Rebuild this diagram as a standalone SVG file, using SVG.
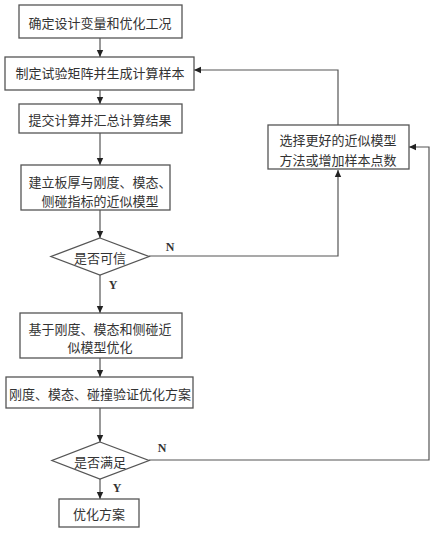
<svg xmlns="http://www.w3.org/2000/svg" width="439" height="538" viewBox="0 0 439 538">
<style>
.box{fill:#fff;stroke:#555;stroke-width:1.3}
.t{font-family:"Noto Sans CJK SC","Noto Sans CJK JP",sans-serif;font-size:13px;fill:#333;text-anchor:middle;dominant-baseline:central}
.l{font-family:"Liberation Serif",serif;font-size:12px;font-weight:bold;fill:#333;text-anchor:middle;dominant-baseline:central}
.c{fill:none;stroke:#555;stroke-width:1.2}
</style>
<defs>
<marker id="a" markerWidth="8" markerHeight="8" refX="7" refY="4" orient="auto" markerUnits="userSpaceOnUse">
<path d="M0,0.8 L7,4 L0,7.2 Z" fill="#222"/>
</marker>
</defs>
<rect width="439" height="538" fill="#fff"/>
<g id="connectors">
<path class="c" d="M100,38 V57" marker-end="url(#a)"/>
<path class="c" d="M100,90 V104" marker-end="url(#a)"/>
<path class="c" d="M100,133 V165" marker-end="url(#a)"/>
<path class="c" d="M100,210 V238" marker-end="url(#a)"/>
<path class="c" d="M100,275 V313" marker-end="url(#a)"/>
<path class="c" d="M100,358 V377" marker-end="url(#a)"/>
<path class="c" d="M100,408 V442" marker-end="url(#a)"/>
<path class="c" d="M100,479 V499" marker-end="url(#a)"/>
<path class="c" d="M149,256 H338 V170" marker-end="url(#a)"/>
<path class="c" d="M338,125 V70 H194" marker-end="url(#a)"/>
<path class="c" d="M149,460 H429 V147 H409" marker-end="url(#a)"/>
<text class="l" x="170" y="247">N</text>
<text class="l" x="113" y="285">Y</text>
<text class="l" x="162" y="448">N</text>
<text class="l" x="117" y="488">Y</text>
</g>
<g id="n1"><rect class="box" x="19" y="5" width="163" height="33"/><text class="t" x="100" y="22">确定设计变量和优化工况</text></g>
<g id="n2"><rect class="box" x="5" y="57" width="189" height="33"/><text class="t" x="100" y="72">制定试验矩阵并生成计算样本</text></g>
<g id="n3"><rect class="box" x="19" y="104" width="163" height="29"/><text class="t" x="100" y="119">提交计算并汇总计算结果</text></g>
<g id="n4"><rect class="box" x="21" y="165" width="149" height="45"/><text class="t" x="100" y="181">建立板厚与刚度、模态、</text><text class="t" x="100" y="200">侧碰指标的近似模型</text></g>
<g id="d1"><polygon class="box" points="100,238 149,256.5 100,275 51,256.5"/><text class="t" x="100" y="257">是否可信</text></g>
<g id="n5"><rect class="box" x="268" y="125" width="141" height="44"/><text class="t" x="338" y="139">选择更好的近似模型</text><text class="t" x="338" y="159">方法或增加样本点数</text></g>
<g id="n6"><rect class="box" x="20" y="313" width="162" height="45"/><text class="t" x="100" y="328">基于刚度、模态和侧碰近</text><text class="t" x="100" y="346">似模型优化</text></g>
<g id="n7"><rect class="box" x="6" y="377" width="187" height="31"/><text class="t" x="100" y="393">刚度、模态、碰撞验证优化方案</text></g>
<g id="d2"><polygon class="box" points="100,442 149,460.5 100,479 52,460.5"/><text class="t" x="100" y="461">是否满足</text></g>
<g id="n8"><rect class="box" x="59" y="499" width="80" height="28"/><text class="t" x="99" y="513">优化方案</text></g>
</svg>
